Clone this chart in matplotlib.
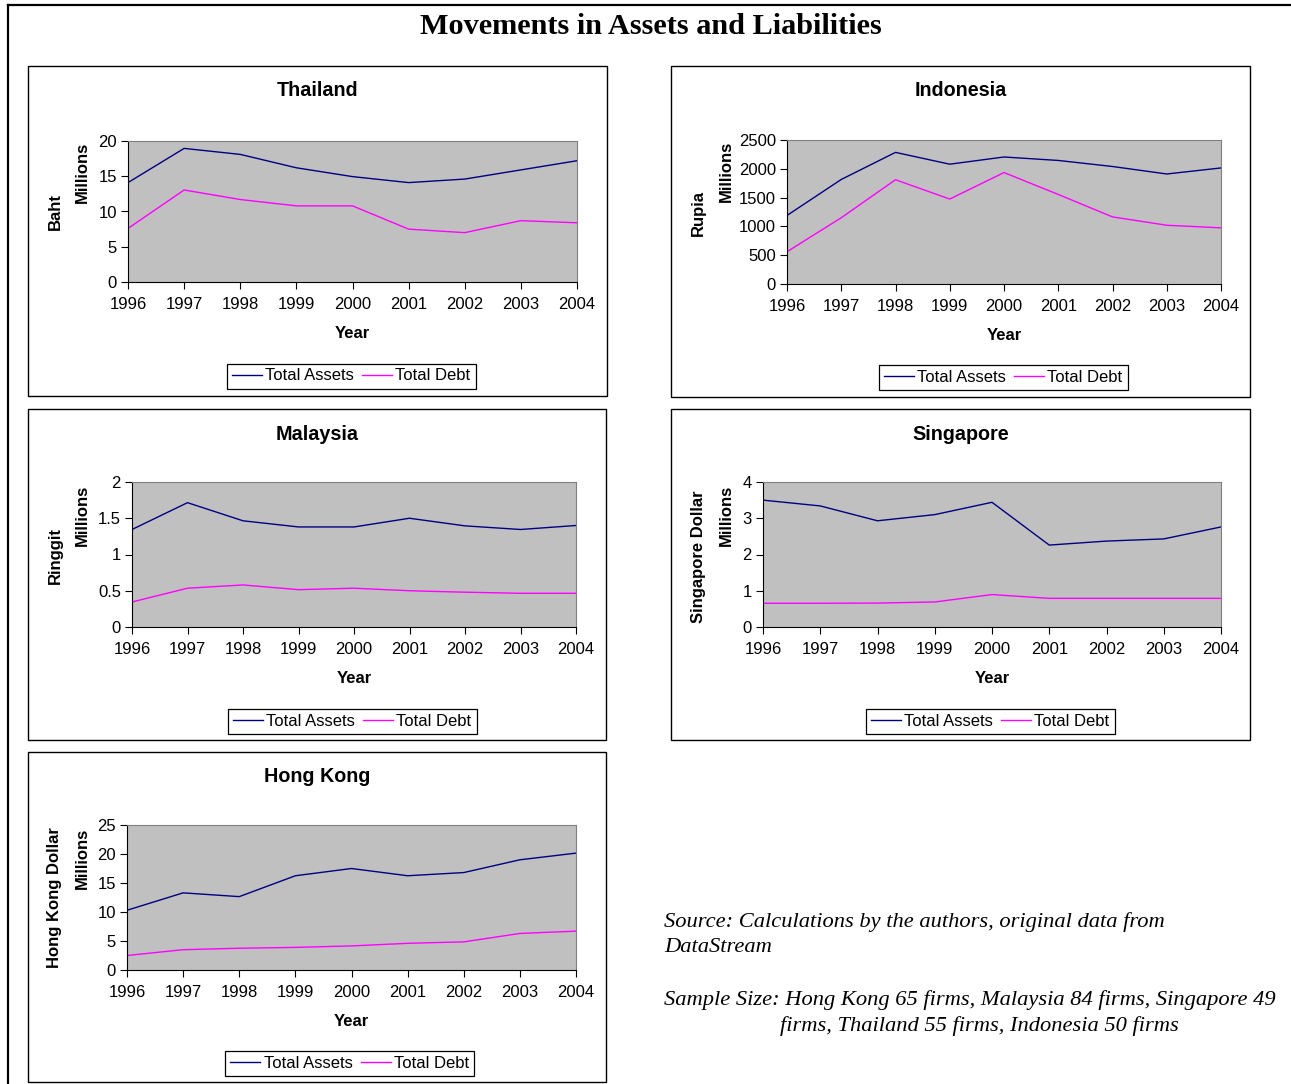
import matplotlib
matplotlib.use("Agg")
import matplotlib.pyplot as plt
from matplotlib.lines import Line2D
from matplotlib.patches import Rectangle
from matplotlib.ticker import FuncFormatter

YEARS = [1996, 1997, 1998, 1999, 2000, 2001, 2002, 2003, 2004]

THAILAND_ASSETS = [14.1, 18.95, 18.1, 16.2, 14.95, 14.1, 14.6, 15.9, 17.2]
THAILAND_DEBT = [7.6, 13.05, 11.7, 10.8, 10.8, 7.5, 7.0, 8.7, 8.4]

INDONESIA_ASSETS = [1190, 1815, 2285, 2080, 2205, 2145, 2040, 1910, 2015]
INDONESIA_DEBT = [560, 1150, 1810, 1475, 1935, 1555, 1165, 1020, 975]

MALAYSIA_ASSETS = [1.345, 1.715, 1.465, 1.38, 1.38, 1.5, 1.395, 1.345, 1.4]
MALAYSIA_DEBT = [0.345, 0.535, 0.58, 0.515, 0.535, 0.5, 0.48, 0.465, 0.465]

SINGAPORE_ASSETS = [3.5, 3.34, 2.93, 3.1, 3.44, 2.26, 2.37, 2.43, 2.76]
SINGAPORE_DEBT = [0.655, 0.655, 0.66, 0.69, 0.895, 0.79, 0.79, 0.79, 0.79]

HONGKONG_ASSETS = [10.3, 13.3, 12.65, 16.25, 17.5, 16.25, 16.8, 19.0, 20.15]
HONGKONG_DEBT = [2.5, 3.5, 3.75, 3.9, 4.15, 4.6, 4.85, 6.3, 6.7]

SERIES_NAMES = ["Total Assets", "Total Debt"]
SERIES_COLORS = ["#000080", "#FF00FF"]

W, H = 1291, 1084


def fx(x: float) -> float:
    return x / W


def fy(y: float) -> float:
    return 1 - y / H


# (title, currency, assets, debt, yticks, box px, plot px, currency label px, millions label px, legend center px)
PANELS = [
    ("Thailand", "Baht", THAILAND_ASSETS, THAILAND_DEBT, [0, 5, 10, 15, 20],
     (28, 66, 607, 396), (128, 141, 577, 282), (55, 212), (82, 172), (351, 376)),
    ("Indonesia", "Rupia", INDONESIA_ASSETS, INDONESIA_DEBT, [0, 500, 1000, 1500, 2000, 2500],
     (671, 66, 1250, 397), (787, 140, 1221, 284), (698, 213), (726, 171), (1003, 377)),
    ("Malaysia", "Ringgit", MALAYSIA_ASSETS, MALAYSIA_DEBT, [0, 0.5, 1, 1.5, 2],
     (28, 409, 606, 740), (132, 482, 576, 627), (55, 555), (82, 515), (352, 721)),
    ("Singapore", "Singapore Dollar", SINGAPORE_ASSETS, SINGAPORE_DEBT, [0, 1, 2, 3, 4],
     (671, 409, 1250, 740), (763, 482, 1221, 627), (698, 557), (726, 515), (990, 721)),
    ("Hong Kong", "Hong Kong Dollar", HONGKONG_ASSETS, HONGKONG_DEBT, [0, 5, 10, 15, 20, 25],
     (28, 752, 606, 1082), (127, 825, 576, 970), (55, 898), (82, 858), (350, 1063)),
]


def main() -> int:
    plt.rcParams.update({
        "font.family": ["Liberation Sans", "DejaVu Sans"],
        "font.size": 12,
        "xtick.labelsize": 12,
        "ytick.labelsize": 12,
    })

    fig = plt.figure(figsize=(W / 100, H / 100), dpi=100)
    fig.patch.set_facecolor("white")

    # outer frame (top and left edges)
    fig.add_artist(Line2D([fx(8), fx(W)], [fy(5), fy(5)], color="black", linewidth=1.6))
    fig.add_artist(Line2D([fx(8), fx(8)], [fy(5), fy(H)], color="black", linewidth=1.6))

    fig.text(fx(651), fy(26), "Movements in Assets and Liabilities", ha="center", va="center",
             family=["Liberation Serif", "DejaVu Serif"], fontweight="bold", fontsize=21.8)

    for (title, currency, assets, debt, yticks, box, plot,
         cur_pos, mil_pos, leg_pos) in PANELS:
        bx0, by0, bx1, by1 = box
        fig.add_artist(Rectangle((fx(bx0), fy(by1)), (bx1 - bx0) / W, (by1 - by0) / H,
                                 transform=fig.transFigure, facecolor="none",
                                 edgecolor="black", linewidth=1.0))

        px0, py0, px1, py1 = plot
        ax = fig.add_axes([fx(px0), fy(py1), (px1 - px0) / W, (py1 - py0) / H])
        ax.set_facecolor("#C0C0C0")
        ax.plot(YEARS, assets, color=SERIES_COLORS[0], linewidth=1.0, label=SERIES_NAMES[0])
        ax.plot(YEARS, debt, color=SERIES_COLORS[1], linewidth=1.0, label=SERIES_NAMES[1])

        ax.set_xlim(YEARS[0], YEARS[-1])
        ax.set_ylim(yticks[0], yticks[-1])
        ax.set_xticks(YEARS)
        ax.set_yticks(yticks)
        ax.yaxis.set_major_formatter(FuncFormatter(lambda v, _: f"{v:g}"))
        ax.tick_params(direction="out", length=5, width=0.8, pad=3)
        ax.tick_params(axis="x", pad=6)
        for side in ("top", "right"):
            ax.spines[side].set_color("#808080")
            ax.spines[side].set_linewidth(0.8)
        for side in ("left", "bottom"):
            ax.spines[side].set_color("black")
            ax.spines[side].set_linewidth(0.8)

        ax.set_xlabel("Year", fontweight="bold", labelpad=10)

        fig.text(fx((bx0 + bx1) / 2), fy(by0 + 25), title, ha="center", va="center",
                 fontweight="bold", fontsize=14.2)
        fig.text(fx(cur_pos[0]), fy(cur_pos[1]), currency, rotation=90, ha="center",
                 va="center", fontweight="bold")
        fig.text(fx(mil_pos[0]), fy(mil_pos[1]), "Millions", rotation=90, ha="center",
                 va="center", fontweight="bold")

        handles, labels = ax.get_legend_handles_labels()
        leg = fig.legend(handles, labels, loc="center", ncol=2,
                         bbox_to_anchor=(fx(leg_pos[0]), fy(leg_pos[1])),
                         frameon=True, fancybox=False, framealpha=1, edgecolor="black",
                         handlelength=1.8, handletextpad=0.2, columnspacing=0.5,
                         borderpad=0.3, borderaxespad=0, fontsize=12)
        leg.get_frame().set_linewidth(0.9)

    note_kw = dict(family=["Liberation Serif", "DejaVu Serif"], style="italic",
                   fontsize=16.2, ha="left", va="center")
    fig.text(fx(664), fy(922), "Source: Calculations by the authors, original data from", **note_kw)
    fig.text(fx(664), fy(948), "DataStream", **note_kw)
    fig.text(fx(664), fy(1000), "Sample Size: Hong Kong 65 firms, Malaysia 84 firms, Singapore 49",
             **note_kw)
    fig.text(fx(780), fy(1026), "firms, Thailand 55 firms, Indonesia 50 firms", **note_kw)

    fig.savefig("out.png", dpi=100)
    plt.close(fig)
    return 0


if __name__ == "__main__":
    raise SystemExit(main())
